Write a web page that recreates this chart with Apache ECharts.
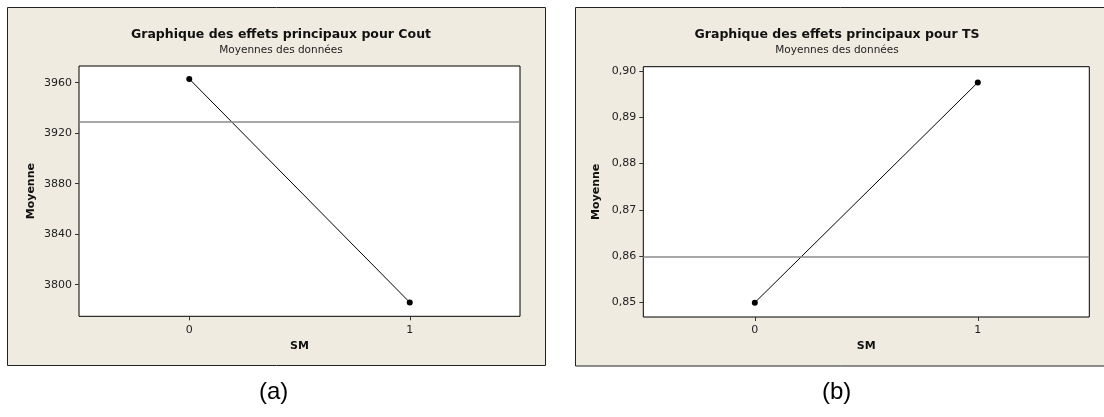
<!DOCTYPE html>
<html>
<head>
<meta charset="utf-8">
<script src="https://cdn.jsdelivr.net/npm/echarts@6/dist/echarts.min.js"></script>
<style>
html,body{margin:0;padding:0;background:#fff;}
#c{width:1104px;height:417px;}
</style>
</head>
<body>
<div id="c"></div>
<script>
// ---- data ----
const smLevels = ['0', '1'];
const coutMeans = [3963, 3786];
const coutGrandMean = 3929;
const coutTicks = [3800, 3840, 3880, 3920, 3960];
const tsMeans = [0.8500, 0.8975];
const tsGrandMean = 0.8589;
const tsTicks = [0.85, 0.86, 0.87, 0.88, 0.89, 0.90];
const titles = ['Graphique des effets principaux pour Cout', 'Graphique des effets principaux pour TS'];
const subtitle = 'Moyennes des données';
const yName = 'Moyenne';
const xName = 'SM';
const captions = ['(a)', '(b)'];

const FONT = 'DejaVu Sans';
const panelBg = '#EFEBE1';

const chart = echarts.init(document.getElementById('c'), null, {renderer: 'canvas'});

function yAxisCfg(gi, min, max, ticks, fmt, gap) {
  return {
    type: 'value', gridIndex: gi, min: min, max: max,
    name: yName, nameLocation: 'middle', nameGap: gap, nameRotate: 90,
    nameTextStyle: {fontFamily: FONT, fontWeight: 'bold', fontSize: 11, color: '#111'},
    axisLine: {show: false},
    splitLine: {show: false},
    axisTick: {show: true, length: 4, customValues: ticks, lineStyle: {color: '#333', width: 1}},
    axisLabel: {customValues: ticks, formatter: fmt, margin: 7, fontFamily: FONT, fontSize: 11, color: '#222'}
  };
}
function xAxisCfg(gi) {
  return {
    type: 'category', gridIndex: gi, data: smLevels, boundaryGap: true,
    name: xName, nameLocation: 'middle', nameGap: 24,
    nameTextStyle: {fontFamily: FONT, fontWeight: 'bold', fontSize: 11, color: '#111'},
    axisLine: {show: false},
    axisTick: {show: true, alignWithLabel: true, length: 4, lineStyle: {color: '#333'}},
    axisLabel: {margin: 8, fontFamily: FONT, fontSize: 11, color: '#222'},
    splitLine: {show: false}
  };
}
function lineSeries(gi, data, mean) {
  return {
    type: 'line', xAxisIndex: gi, yAxisIndex: gi, data: data,
    symbol: 'circle', symbolSize: 6, showSymbol: true,
    itemStyle: {color: '#000'},
    lineStyle: {color: '#000', width: 1},
    silent: true,
    markLine: {
      silent: true, symbol: ['none', 'none'],
      label: {show: false},
      lineStyle: {color: '#8a8a8a', width: 1.5, type: 'solid'},
      data: [{yAxis: mean}]
    }
  };
}

chart.setOption({
  animation: false,
  backgroundColor: '#fff',
  graphic: [
    {type: 'rect', z: -10, shape: {x: 7.5, y: 7.5, width: 538, height: 358}, style: {fill: panelBg, stroke: '#222', lineWidth: 1}},
    {type: 'rect', z: -10, shape: {x: 575.5, y: 7.5, width: 560, height: 358.5}, style: {fill: panelBg, stroke: '#222', lineWidth: 1}},
    {type: 'text', left: 273 - 14, top: 380, style: {text: captions[0], font: '24px "Liberation Sans", Arial, sans-serif', fill: '#000'}},
    {type: 'text', left: 836 - 14, top: 380, style: {text: captions[1], font: '24px "Liberation Sans", Arial, sans-serif', fill: '#000'}}
  ],
  title: [
    {text: titles[0], subtext: subtitle, left: 276, top: 23, textAlign: 'center', itemGap: 4,
     textStyle: {fontFamily: FONT, fontWeight: 'bold', fontSize: 12.5, color: '#111'},
     subtextStyle: {fontFamily: FONT, fontSize: 10.5, color: '#222'}},
    {text: titles[1], subtext: subtitle, left: 832, top: 23, textAlign: 'center', itemGap: 4,
     textStyle: {fontFamily: FONT, fontWeight: 'bold', fontSize: 12.5, color: '#111'},
     subtextStyle: {fontFamily: FONT, fontSize: 10.5, color: '#222'}}
  ],
  grid: [
    {left: 79, top: 66, width: 441, height: 250.3, show: true, backgroundColor: '#fff', borderColor: '#000', borderWidth: 1, containLabel: false},
    {left: 643.3, top: 66.7, width: 446, height: 250.3, show: true, backgroundColor: '#fff', borderColor: '#000', borderWidth: 1, containLabel: false}
  ],
  xAxis: [xAxisCfg(0), xAxisCfg(1)],
  yAxis: [
    yAxisCfg(0, 3775, 3973.2, coutTicks, v => String(Math.round(v)), 42),
    yAxisCfg(1, 0.8469, 0.9009, tsTicks, v => v.toFixed(2).replace('.', ','), 42)
  ],
  series: [lineSeries(0, coutMeans, coutGrandMean), lineSeries(1, tsMeans, tsGrandMean)]
});
</script>
</body>
</html>
